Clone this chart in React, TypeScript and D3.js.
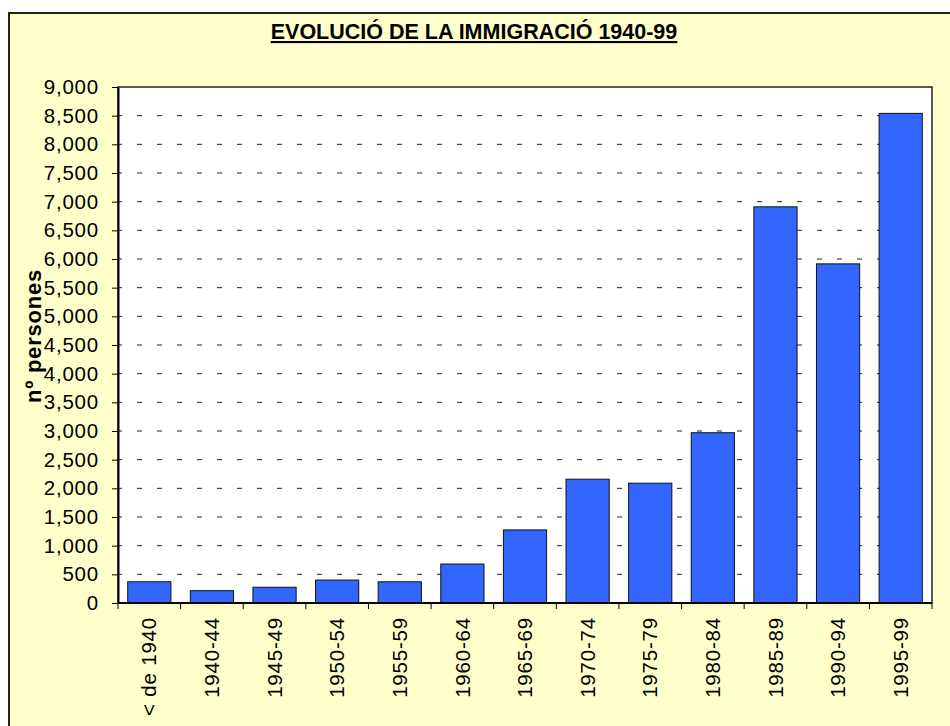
import React, { useEffect, useRef } from "react";
import * as d3 from "d3";

// periods and number of people arriving in each
const periods = [
  "< de 1940",
  "1940-44",
  "1945-49",
  "1950-54",
  "1955-59",
  "1960-64",
  "1965-69",
  "1970-74",
  "1975-79",
  "1980-84",
  "1985-89",
  "1990-94",
  "1995-99",
];
const persons = [370, 215, 275, 400, 370, 680, 1275, 2160, 2090, 2970, 6910, 5915, 8540];
const yTicks = d3.range(0, 9001, 500);

const chartTitle = "EVOLUCIÓ DE LA IMMIGRACIÓ 1940-99";
const yTitle = "nº persones";

const FONT = "Arial, 'Liberation Sans', sans-serif";

const App = () => {
  const svgRef = useRef<SVGSVGElement | null>(null);

  useEffect(() => {
    const width = 950;
    const height = 726;
    const left = 118;
    const right = 932;
    const top = 87;
    const bottom = 603;

    const svg = d3.select(svgRef.current);
    svg.selectAll("*").remove();

    // yellow chart area box
    svg
      .append("rect")
      .attr("x", 9)
      .attr("y", 13)
      .attr("width", 980)
      .attr("height", 760)
      .attr("fill", "#FFFFCC")
      .attr("stroke", "#222")
      .attr("stroke-width", 2);

    // title
    svg
      .append("text")
      .attr("x", 474)
      .attr("y", 39)
      .attr("text-anchor", "middle")
      .attr("font-family", FONT)
      .attr("font-size", 21.5)
      .attr("font-weight", "bold")
      .attr("text-decoration", "underline")
      .attr("fill", "#000")
      .text(chartTitle);

    const x = d3.scaleBand<string>().domain(periods).range([left, right]).paddingInner(0.31).paddingOuter(0.155);
    const y = d3.scaleLinear().domain([0, 9000]).range([bottom, top]);

    // plot area
    svg
      .append("rect")
      .attr("x", left)
      .attr("y", top)
      .attr("width", right - left)
      .attr("height", bottom - top)
      .attr("fill", "#fff")
      .attr("stroke", "#222")
      .attr("stroke-width", 1.5);

    // dashed grid
    svg
      .append("g")
      .selectAll("line")
      .data(yTicks.filter((t) => t > 0 && t < 9000))
      .join("line")
      .attr("x1", left)
      .attr("x2", right)
      .attr("y1", (d) => y(d))
      .attr("y2", (d) => y(d))
      .attr("stroke", "#222")
      .attr("stroke-width", 1)
      .attr("stroke-dasharray", "5,15")
      .attr("stroke-dashoffset", 1);

    // bars
    svg
      .append("g")
      .selectAll("rect")
      .data(periods)
      .join("rect")
      .attr("x", (d) => x(d)!)
      .attr("y", (d, i) => y(persons[i]))
      .attr("width", x.bandwidth())
      .attr("height", (d, i) => bottom - y(persons[i]))
      .attr("fill", "#3366FF")
      .attr("stroke", "#111")
      .attr("stroke-width", 1);

    // y axis
    svg
      .append("g")
      .attr("transform", `translate(${left},0)`)
      .call(
        d3
          .axisLeft(y)
          .tickValues(yTicks)
          .tickSize(6)
          .tickPadding(13)
          .tickSizeOuter(0)
          .tickFormat(d3.format(","))
      )
      .call((g) => g.select(".domain").attr("stroke", "#000").attr("stroke-width", 2))
      .call((g) => g.selectAll(".tick line").attr("stroke", "#000"))
      .call((g) =>
        g
          .selectAll(".tick text")
          .attr("font-family", FONT)
          .attr("font-size", 20.5)
          .attr("letter-spacing", 0.8)
          .attr("fill", "#000")
      );

    // x axis: line, ticks at category boundaries, rotated labels
    const xAxis = svg.append("g");
    xAxis
      .append("line")
      .attr("x1", left)
      .attr("x2", right)
      .attr("y1", bottom)
      .attr("y2", bottom)
      .attr("stroke", "#000")
      .attr("stroke-width", 2);
    const step = x.step();
    xAxis
      .selectAll("line.tick")
      .data(d3.range(periods.length + 1))
      .join("line")
      .attr("class", "tick")
      .attr("x1", (i) => left + i * step)
      .attr("x2", (i) => left + i * step)
      .attr("y1", bottom)
      .attr("y2", bottom + 6)
      .attr("stroke", "#000");
    xAxis
      .selectAll("text")
      .data(periods)
      .join("text")
      .attr("transform", (d) => `translate(${x(d)! + x.bandwidth() / 2},${bottom + 14}) rotate(-90)`)
      .attr("dy", "0.35em")
      .attr("text-anchor", "end")
      .attr("font-family", FONT)
      .attr("font-size", 20.5)
      .attr("letter-spacing", 0.8)
      .attr("fill", "#000")
      .text((d) => d);

    // y axis title
    svg
      .append("text")
      .attr("transform", `translate(33,${336}) rotate(-90)`)
      .attr("dy", "0.35em")
      .attr("text-anchor", "middle")
      .attr("font-family", FONT)
      .attr("font-size", 22)
      .attr("font-weight", "bold")
      .attr("letter-spacing", 0.8)
      .attr("fill", "#000")
      .text(yTitle);

    svg.attr("width", width).attr("height", height);
  }, []);

  return (
    <div style={{ position: "absolute", left: 0, top: 0, width: 950, height: 726, overflow: "hidden" }}>
      <svg ref={svgRef} style={{ display: "block" }}></svg>
    </div>
  );
};

export default App;
